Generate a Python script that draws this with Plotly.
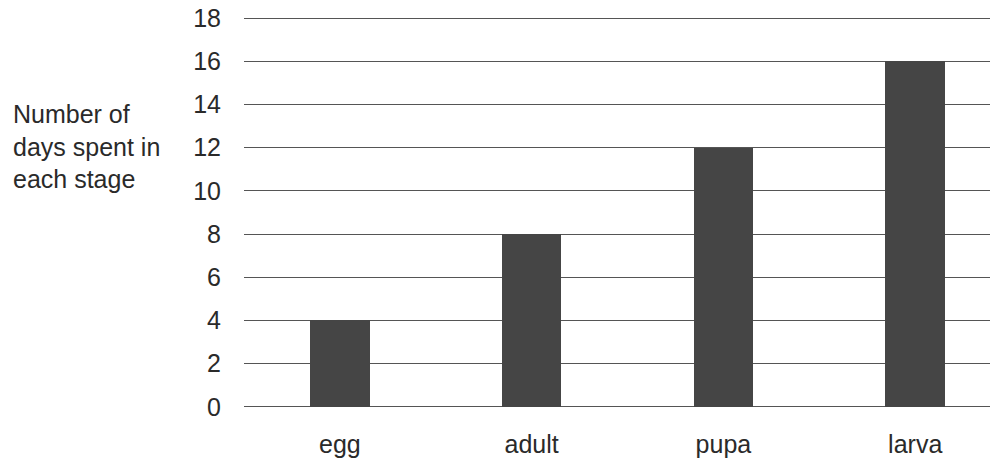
import plotly.graph_objects as go

stages = ["egg", "adult", "pupa", "larva"]
days = [4, 8, 12, 16]
y_ticks = [0, 2, 4, 6, 8, 10, 12, 14, 16, 18]

FONT = "Liberation Sans, Arial, sans-serif"

fig = go.Figure(go.Bar(
    x=stages, y=days, width=0.31,
    marker=dict(color="#454545", line=dict(width=0)),
))

fig.update_layout(
    width=994, height=451,
    margin=dict(l=236, r=12, t=8, b=50),
    paper_bgcolor="white", plot_bgcolor="white",
    font=dict(family=FONT, size=25, color="#2a2a2a"),
    showlegend=False,
    bargap=0,
    xaxis=dict(range=[-0.5, 3.39], showgrid=False, zeroline=False, showline=False,
               ticks="", ticklabelstandoff=18, automargin=False, tickfont=dict(size=25)),
    yaxis=dict(range=[-0.1, 18.1], tickvals=y_ticks, showgrid=True, gridcolor="#555555",
               gridwidth=1, zeroline=False, showline=False, ticks="", automargin=False,
               ticklabelstandoff=22, ticklabeloverflow="allow", tickfont=dict(size=25)),
    annotations=[dict(
        text="Number of<br>days spent in<br>each stage",
        xref="paper", yref="paper", x=-0.312, y=0.667,
        xanchor="left", yanchor="middle", align="left", showarrow=False,
        font=dict(size=25, color="#2a2a2a"),
    )],
)

fig.write_html("out.html")
